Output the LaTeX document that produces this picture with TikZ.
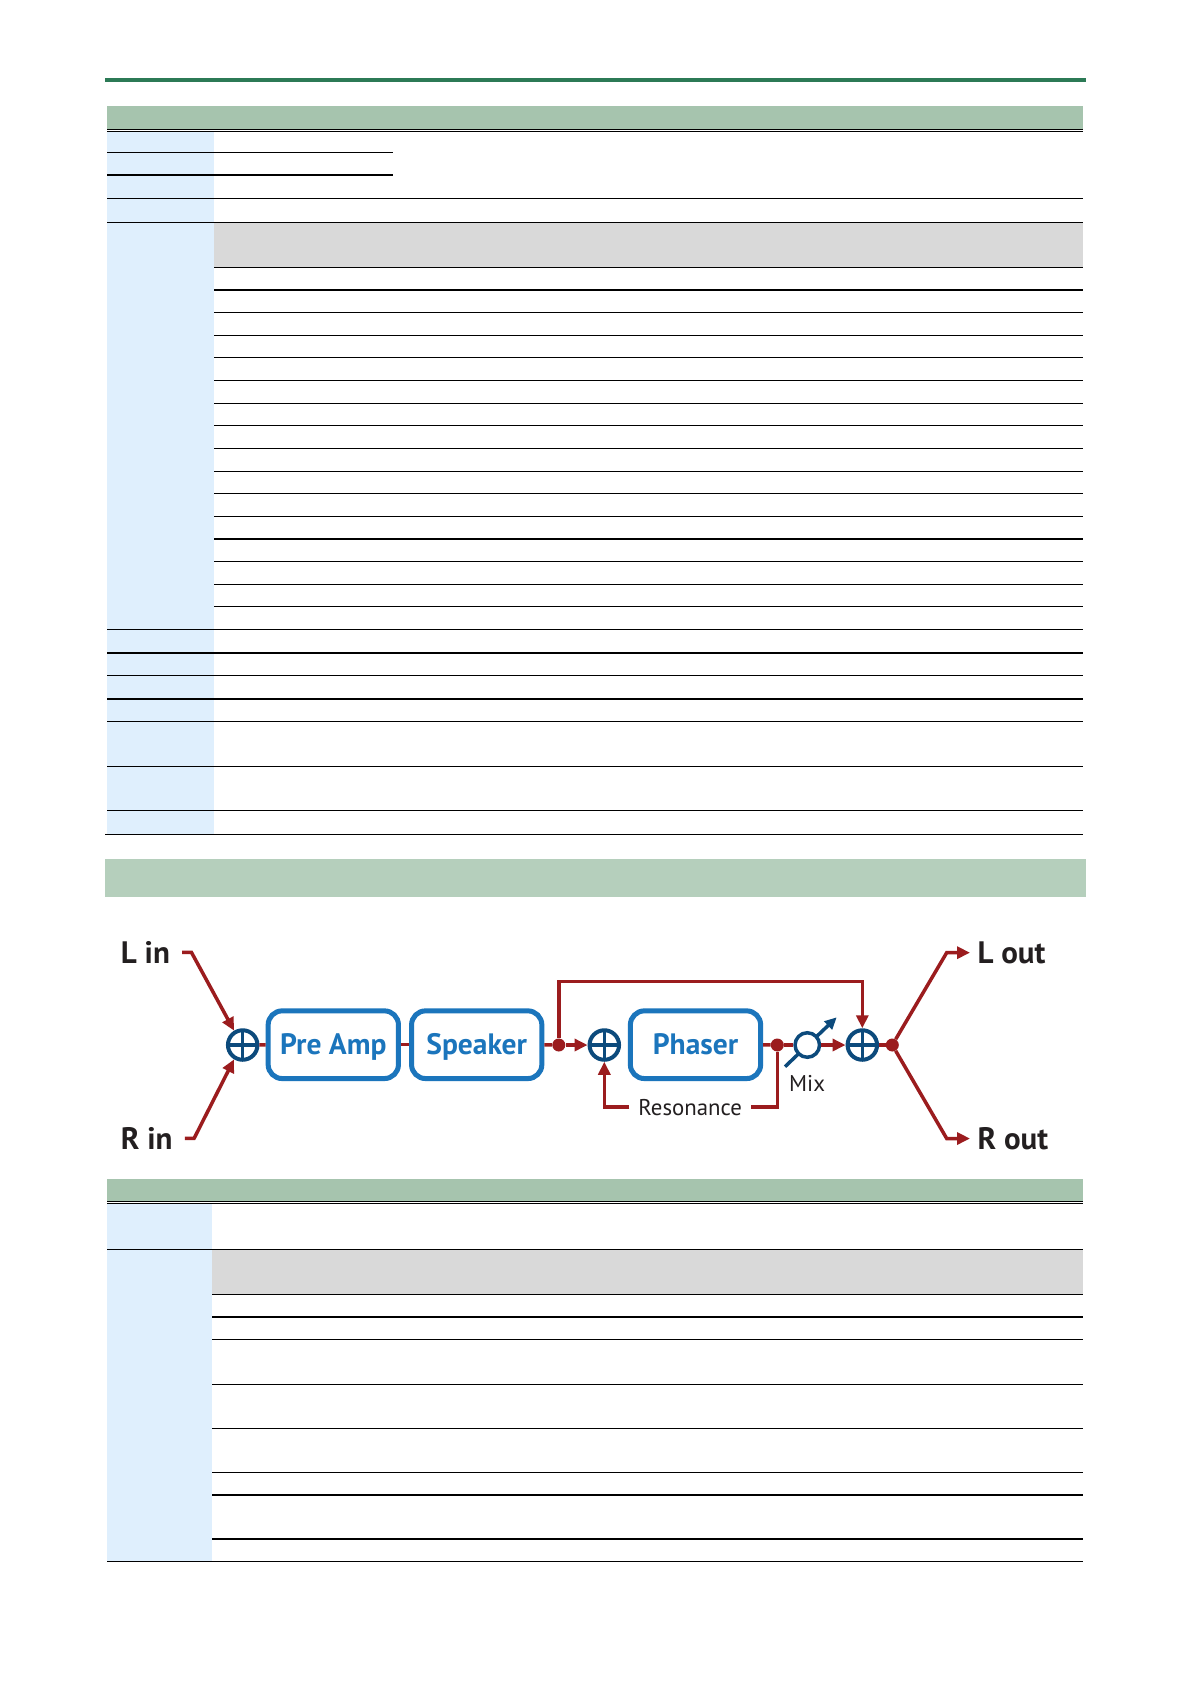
\documentclass[tikz,border=0pt]{standalone}
\usepackage{fontspec}
\setmainfont{PT Sans}
\usetikzlibrary{arrows.meta,calc}
\definecolor{sigred}{RGB}{155,28,30}
\definecolor{navy}{RGB}{12,74,124}
\definecolor{boxblue}{RGB}{27,117,188}
\definecolor{hdrgreen}{RGB}{166,196,174}
\definecolor{bandgreen}{RGB}{181,207,188}
\definecolor{rulegreen}{RGB}{44,122,86}
\definecolor{colblue}{RGB}{223,239,253}
\definecolor{subgray}{RGB}{217,217,217}
\definecolor{txt}{RGB}{35,31,32}
\begin{document}
\begin{tikzpicture}[x=1pt,y=-1pt,
  sig/.style={draw=sigred,line width=3.5pt},
  arr/.style={sig,-{Triangle[length=13pt,width=12pt]}},
  sumnode/.style={circle,draw=navy,line width=4pt,fill=white,minimum size=29.5pt,inner sep=0pt,
    path picture={\draw[navy,line width=3.5pt] (path picture bounding box.north) -- (path picture bounding box.south)
      (path picture bounding box.west) -- (path picture bounding box.east);}},
  mixnode/.style={circle,draw=navy,line width=3.5pt,fill=white,minimum size=24.5pt,inner sep=0pt},
  fxbox/.style={draw=boxblue,line width=5pt,rounded corners=14pt,minimum width=130.3pt,minimum height=67.7pt,
    inner sep=0pt,text height=20pt,text depth=0pt,font=\bfseries\fontsize{29.5}{30}\selectfont,text=boxblue},
  dotnode/.style={circle,fill=sigred,minimum size=13pt,inner sep=0pt},
  io/.style={font=\bfseries\fontsize{31}{34}\selectfont,text=txt,inner sep=0pt},
  small/.style={font=\fontsize{22.8}{25}\selectfont,text=txt},
  tline/.style={line width=1.1pt,black},
  dline/.style={line width=0.9pt,black}]
\useasboundingbox (0,0) rectangle (1191,1684);
\fill[white] (0,0) rectangle (1191,1684);

% top rule
\fill[rulegreen] (105,77.5) rectangle (1086,81.5);

% ===== upper table =====
\fill[hdrgreen] (107,105.7) rectangle (1082.5,128.5);
\draw[dline] (107,129.4) -- (1082.5,129.4);
\draw[dline] (107,131.6) -- (1082.5,131.6);
\fill[colblue] (107,132) rectangle (214,834);
\fill[subgray] (214,222.3) rectangle (1082.5,267.4);
\draw[tline] (107,152.5) -- (393,152.5);
\draw[tline] (107,175) -- (393,175);
\foreach \y in {198.7,222.3,629.3,653,675.5,699,721.7,766.8,810.8}
  \draw[tline] (107,\y) -- (1082.5,\y);
\draw[tline] (105,834.4) -- (1082.5,834.4);
\foreach \i in {0,...,15}
  \draw[tline] (214,{267.4+22.63*\i}) -- (1082.5,{267.4+22.63*\i});

% band
\fill[bandgreen] (104.5,859) rectangle (1086,897);

% ===== lower table =====
\fill[hdrgreen] (107.4,1179) rectangle (1082.5,1200.6);
\draw[dline] (107.4,1201.6) -- (1082.5,1201.6);
\draw[dline] (107.4,1203.8) -- (1082.5,1203.8);
\fill[colblue] (107.4,1204) rectangle (212,1561.5);
\fill[subgray] (212,1249.3) rectangle (1082.5,1294.3);
\draw[tline] (107.4,1249.3) -- (1082.5,1249.3);
\foreach \y in {1294.3,1317,1339.3,1384.3,1428.3,1472.3,1495,1539}
  \draw[tline] (212,\y) -- (1082.5,\y);
\draw[tline] (107.4,1561.8) -- (1082.5,1561.8);

% ===== block diagram =====
% Mix control arrow (behind the mix circle)
\coordinate (mixa) at (785,1066.7);
\coordinate (mixb) at (836.7,1017.3);
\draw[navy,line width=3.5pt,-{Triangle[length=12pt,width=11pt]}] (mixa) -- (mixb);

\node[io,anchor=base west] (lin) at (120.7,963.3) {L in};
\node[io,anchor=base west] (rin) at (120.7,1149.3) {R in};
\node[io,anchor=base west] (lout) at (977.3,963.3) {L out};
\node[io,anchor=base west] (rout) at (977.3,1149.3) {R out};

\node[sumnode] (sum1) at (242.7,1045) {};
\node[fxbox] (preamp) at (333.3,1044.7) {Pre Amp};
\node[fxbox] (speaker) at (476.7,1044.7) {Speaker};
\node[dotnode] (dot1) at (558.8,1045) {};
\node[sumnode] (sum2) at (604.3,1045) {};
\node[fxbox] (phaser) at (695.5,1044.7) {Phaser};
\node[dotnode] (dot2) at (777.3,1045) {};
\node[mixnode] (mixc) at (807.3,1045) {};
\node[sumnode] (sum3) at (862.3,1045) {};
\node[dotnode] (dot3) at (892.3,1045) {};
\node[small,anchor=base west,inner sep=0pt] (mixlbl) at (789,1091.7) {Mix};
\node[small,inner xsep=9pt,inner ysep=0pt,text depth=0pt] (res) at (690.2,1107.2) {Resonance};
\coordinate (tr) at (862.3,981.7);

% connectors
\draw[arr] ([xshift=12pt]lin.east) -- ++(9.3,0) -- (sum1.121);
\draw[arr] ([xshift=12pt]rin.east) -- ++(9.3,0) -- (sum1.239);
\draw[sig] (sum1) -- (preamp);
\draw[sig] (preamp) -- (speaker);
\draw[sig] (speaker) -- (dot1);
\draw[arr] (dot1) -- (sum2);
\draw[arr] (dot1) |- (tr) -- (sum3.north);
\draw[sig] (phaser) -- (dot2);
\draw[sig] (dot2) -- (mixc);
\draw[arr] (mixc) -- (sum3);
\draw[sig] (sum3) -- (dot3);
\draw[sig] (dot2) |- (res.east);
\draw[arr] (res.west) -| (sum2.south);
\draw[arr] (dot3) -- ($(lout.west)+(-30.6,0)$) -- ([xshift=-7.3pt]lout.west);
\draw[arr] (dot3) -- ($(rout.west)+(-30.6,0)$) -- ([xshift=-7.3pt]rout.west);
\end{tikzpicture}
\end{document}
